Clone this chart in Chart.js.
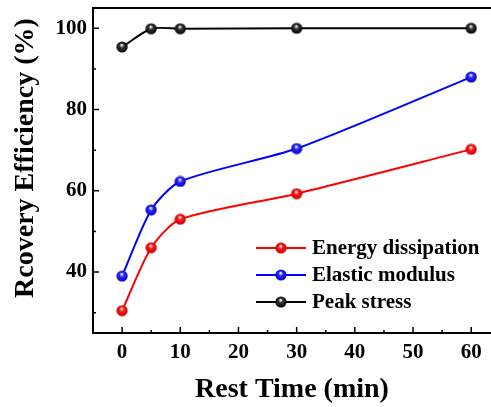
<!DOCTYPE html>
<html>
<head>
<meta charset="utf-8">
<script src="https://cdn.jsdelivr.net/npm/chart.js@4"></script>
<style>
  html, body { margin: 0; padding: 0; background: #fff; }
  #wrap { width: 491px; height: 407px; }
</style>
</head>
<body>
<div id="wrap"><canvas id="myChart" width="491" height="407"></canvas></div>
<script>
// data
const restTime = [0, 5, 10, 30, 60];
const energyDissipation = [30.5, 46.0, 53.0, 59.3, 70.2];
const elasticModulus = [39.0, 55.3, 62.3, 70.4, 88.0];
const peakStress = [95.4, 99.9, 99.9, 100, 100];
const seriesNames = ['Energy dissipation', 'Elastic modulus', 'Peak stress'];
const xTicks = [0, 10, 20, 30, 40, 50, 60];
const yTicks = [40, 60, 80, 100];

const FONT = "'Liberation Serif', 'Times New Roman', serif";

// little shaded ball used as the point marker
const makeBall = (color, dark) => {
    const c = document.createElement('canvas');
    c.width = 12; c.height = 12;
    const g = c.getContext('2d');
    const grad = g.createRadialGradient(5.6, 3.9, 0.3, 6, 6, 6);
    grad.addColorStop(0, '#ffffff');
    grad.addColorStop(0.35, color);
    grad.addColorStop(1, dark);
    g.fillStyle = grad;
    g.beginPath();
    g.arc(6, 6, 5.6, 0, Math.PI * 2);
    g.fill();
    return c;
};

const colors = ['#ff0000', '#0000ff', '#000000'];
const balls = [makeBall('#ff1a1a', '#c00000'), makeBall('#2a2aff', '#0000b0'), makeBall('#333333', '#000000')];

const toXY = (arr) => arr.map((v, i) => ({ x: restTime[i], y: v }));

const frameAndTicks = {
    id: 'frameAndTicks',
    afterDraw: (chart) => {
        const ctx = chart.ctx;
        const a = chart.chartArea;
        const xs = chart.scales.x, ys = chart.scales.y;
        ctx.save();
        ctx.strokeStyle = '#000';
        ctx.lineWidth = 2;
        ctx.beginPath();
        ctx.moveTo(a.right + 2, a.top);
        ctx.lineTo(a.left, a.top);
        ctx.lineTo(a.left, a.bottom);
        ctx.lineTo(a.right + 2, a.bottom);
        ctx.stroke();
        // inward ticks, major and minor
        ctx.lineWidth = 1.5;
        ctx.beginPath();
        for (let v = -5; v <= 60; v += 5) {
            const px = xs.getPixelForValue(v);
            if (px <= a.left + 1) continue;
            const len = v % 10 === 0 ? 6 : 3;
            ctx.moveTo(px, a.bottom);
            ctx.lineTo(px, a.bottom - len);
        }
        for (let v = 30; v <= 100; v += 10) {
            const py = ys.getPixelForValue(v);
            const len = v % 20 === 0 ? 6 : 3;
            ctx.moveTo(a.left, py);
            ctx.lineTo(a.left + len, py);
        }
        ctx.stroke();

        // y axis title
        ctx.save();
        ctx.translate(26, 158);
        ctx.rotate(-Math.PI / 2);
        ctx.font = "bold 28px " + FONT;
        ctx.fillStyle = '#000';
        ctx.textAlign = 'center';
        ctx.textBaseline = 'middle';
        ctx.fillText('Rcovery Efficiency (%)', 0, 0);
        ctx.restore();

        // legend inside the plot
        const rowY = [248, 275, 302];
        ctx.font = "bold 21px " + FONT;
        ctx.textBaseline = 'middle';
        ctx.textAlign = 'left';
        seriesNames.forEach((name, i) => {
            const y = rowY[i];
            ctx.strokeStyle = colors[i];
            ctx.lineWidth = 2;
            ctx.beginPath();
            ctx.moveTo(256, y);
            ctx.lineTo(306, y);
            ctx.stroke();
            ctx.drawImage(balls[i], 281 - 6, y - 6);
            ctx.fillStyle = '#000';
            ctx.fillText(name, 312, y + 1);
        });
        ctx.restore();
    }
};

const dataAll = {
    datasets: [energyDissipation, elasticModulus, peakStress].map((arr, i) => ({
        label: seriesNames[i],
        data: toXY(arr),
        borderColor: colors[i],
        backgroundColor: colors[i],
        borderWidth: 2,
        tension: 0.25,
        pointStyle: balls[i],
        pointRadius: 6,
        order: i
    })).reverse()
};

const options = {
    responsive: false,
    animation: false,
    layout: { autoPadding: false, padding: { top: 8, left: 0, right: 0, bottom: 0 } },
    plugins: {
        legend: { display: false },
        tooltip: { enabled: false }
    },
    scales: {
        x: {
            type: 'linear',
            min: -5,
            max: 63.4,
            afterBuildTicks: (s) => { s.ticks = xTicks.map(v => ({ value: v })); },
            afterFit: (s) => { s.height = 74; s.paddingLeft = 0; s.paddingRight = 0; },
            grid: { display: false, drawTicks: false },
            border: { display: false },
            ticks: { color: '#000', padding: 7, font: { family: FONT, size: 21, weight: 'bold' } },
            title: {
                display: true,
                text: 'Rest Time (min)',
                color: '#000',
                font: { family: FONT, size: 28, weight: 'bold', lineHeight: 1 },
                padding: { top: 0, bottom: 3 }
            }
        },
        y: {
            min: 25,
            max: 105,
            afterBuildTicks: (s) => { s.ticks = yTicks.map(v => ({ value: v })); },
            afterFit: (s) => { s.width = 93; s.paddingTop = 0; s.paddingBottom = 0; },
            grid: { display: false, drawTicks: false },
            border: { display: false },
            ticks: { color: '#000', padding: 6, font: { family: FONT, size: 21, weight: 'bold' } },
            title: { display: false }
        }
    }
};

var myChart = new Chart(document.getElementById('myChart'), {
    type: 'line',
    data: dataAll,
    options: options,
    plugins: [frameAndTicks]
});
</script>
</body>
</html>
